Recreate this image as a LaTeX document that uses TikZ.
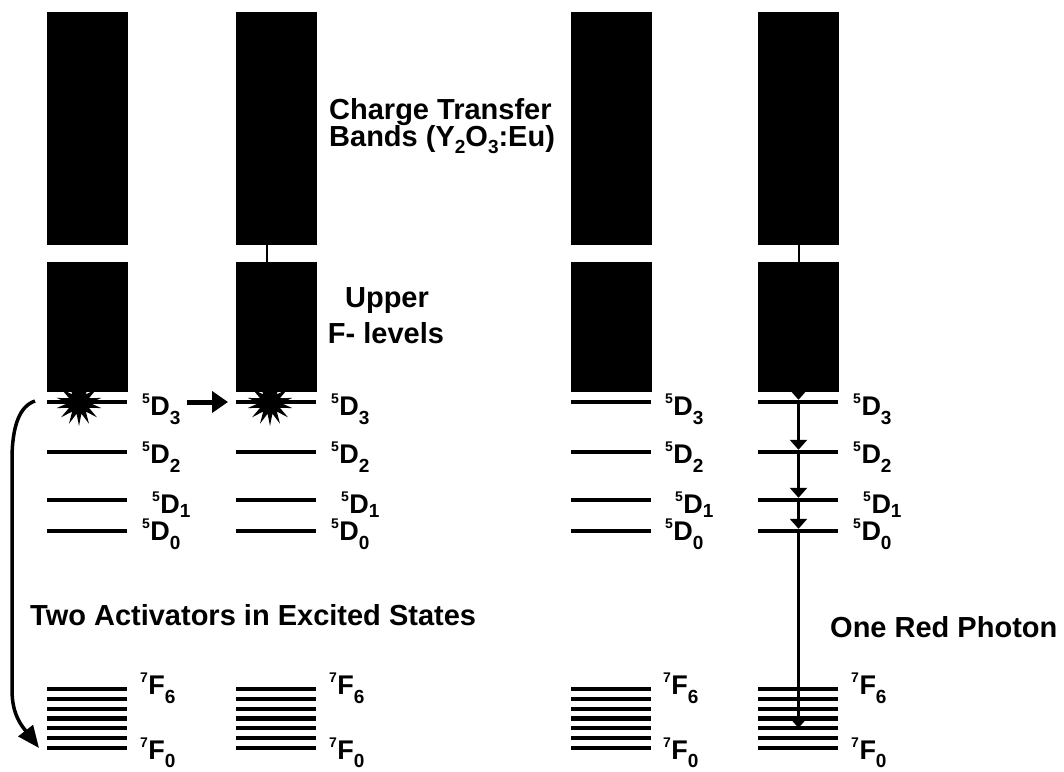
\documentclass[tikz,border=0pt]{standalone}
\usepackage{fontspec}
\setmainfont{Liberation Sans}
\usetikzlibrary{shapes.geometric,arrows.meta}
\newcommand\supsub[4][-9pt]{{\fontsize{14}{14}\selectfont\raisebox{12pt}{#2}}\kern0.5pt #3{\fontsize{19}{19}\selectfont\raisebox{#1}{#4}}}
\newcommand\lowd[1]{{\fontsize{19}{19}\selectfont\raisebox{-7pt}{#1}}}
\begin{document}
\begin{tikzpicture}[x=1pt,y=-1pt,
 band/.style={fill=black, draw=none, minimum width=81pt, inner sep=0pt, outer sep=0pt, anchor=north west},
 lvl/.style={line width=4.5pt},
 flvl/.style={line width=4.2pt},
 lab/.style={anchor=base west, inner sep=0pt, font=\bfseries\fontsize{27}{27}\selectfont},
 txt/.style={inner sep=0pt, font=\bfseries\fontsize{29}{29}\selectfont},
 link/.style={line width=2pt},
 decay/.style={line width=2.5pt, -{Triangle[length=10pt,width=17pt]}},
 hop/.style={line width=5pt, -{Triangle[length=16pt,width=21pt]}},
 curv/.style={line width=3.5pt, -{Triangle[length=22pt,width=18pt]}},
 burst/.style={star, star points=14, star point ratio=2.1, fill=black, draw=none, inner sep=0pt, minimum size=46pt},
]
\useasboundingbox (0,0) rectangle (1064,771);

% bands and levels
\foreach \c/\x in {1/47, 2/236, 3/571, 4/758} {
  \node[band, minimum height=233pt] (u\c) at (\x,12) {};
  \node[band, minimum height=130pt] (l\c) at (\x,262) {};
  \foreach \y in {402,452,500,531} \draw[lvl] (\x,\y) -- ++(80,0);
  \foreach \k in {0,...,6} \draw[flvl] (\x,689+9.8*\k) -- ++(80,0);
}

% level labels
\foreach \c/\d in {1/0, 2/189, 3/523, 4/711} {
  \node[lab] (dd3\c) at (142+\d,415) {\supsub{5}{D}{3}};
  \node[lab] (dd2\c) at (142+\d,463) {\supsub{5}{D}{2}};
  \node[lab] (dd1\c) at (152+\d,513) {\supsub[-4pt]{5}{D}{1}};
  \node[lab] (dd0\c) at (142+\d,540) {\supsub{5}{D}{0}};
  \node[lab] (ff6\c) at (140+\d,694) {\supsub{7}{F}{6}};
  \node[lab] (ff0\c) at (140+\d,759) {\supsub[-8pt]{7}{F}{0}};
}

% excitation bursts
\node[burst] (s1) at (79,403) {};
\node[burst] (s2) at (270,403) {};

% links between bands
\draw[link] ([xshift=-9.5pt]u2.south) -- ([xshift=-9.5pt]l2.north);
\draw[link] (u4.south) -- (l4.north);

% energy transfer arrow
\coordinate (h1) at (187,402);
\coordinate (h2) at (228,402);
\draw[hop] (h1) -- (h2);

% curved arrow
\coordinate (cs) at (35,401);
\coordinate (ce) at (39,748);
\draw[curv] (cs) .. controls (20,406) and (12,425) .. (12,460) -- (12,690) .. controls (12,715) and (22,726) .. (ce);

% cascade in column 4
\coordinate (e3) at (798.5,402);
\coordinate (e2) at (798.5,452);
\coordinate (e1) at (798.5,500);
\coordinate (e0) at (798.5,531);
\coordinate (ef) at (798.5,729);
\draw[decay, shorten >=2.2pt] (l4.south) -- (e3);
\draw[decay, shorten >=2.2pt] (e3) -- (e2);
\draw[decay, shorten >=2.2pt] (e2) -- (e1);
\draw[decay, shorten >=2.2pt] (e1) -- (e0);
\draw[decay, shorten >=1pt] (e0) -- (ef);

% texts
\node[txt, anchor=base west] (ct1) at (329,119) {Charge Transfer};
\node[txt, anchor=base west] (ct2) at (329,146) {Bands (Y\lowd{2}O\lowd{3}:Eu)};
\node[txt, anchor=base] (up1) at (387,307) {Upper};
\node[txt, anchor=base] (up2) at (386,343) {F- levels};
\node[txt, anchor=base west] (two) at (30,625) {Two Activators in Excited States};
\node[txt, anchor=base west] (one) at (830,637) {One Red Photon};
\end{tikzpicture}
\end{document}
